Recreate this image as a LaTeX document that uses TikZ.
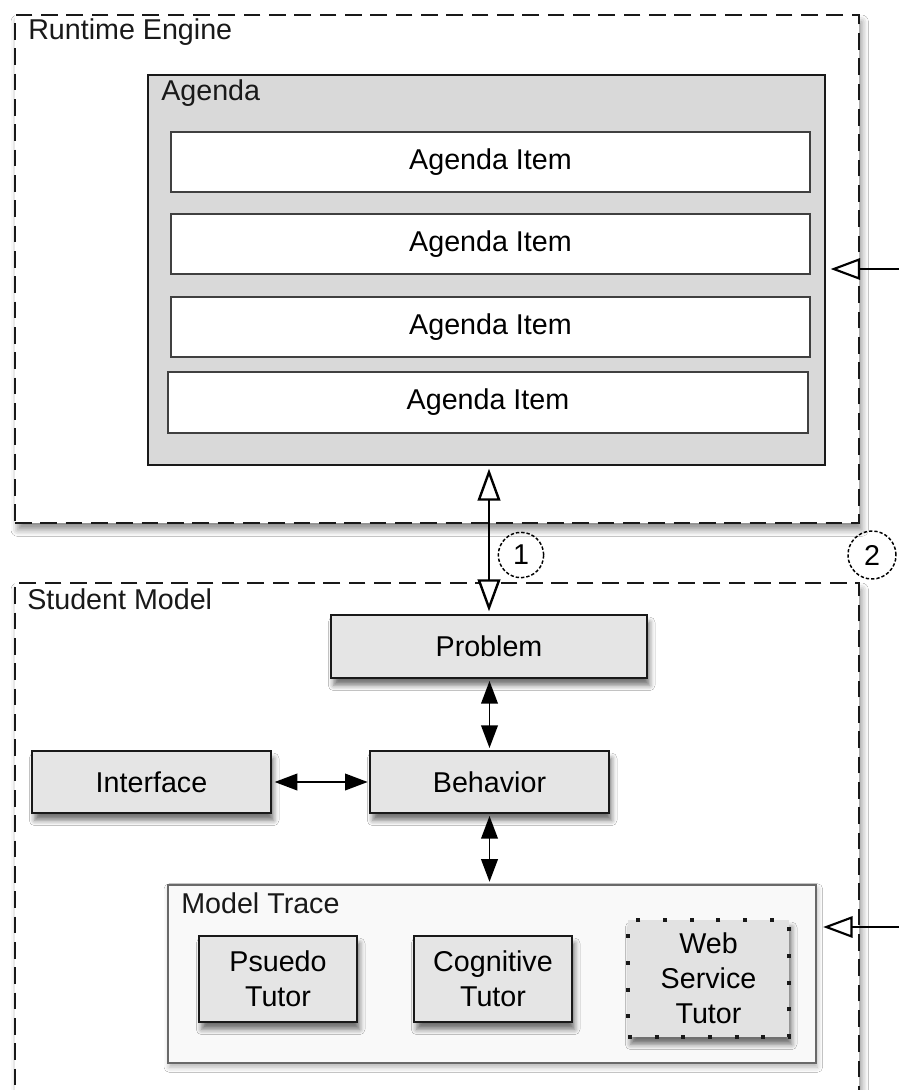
\documentclass[tikz,border=0pt]{standalone}
\usepackage{fontspec}
\setmainfont{Liberation Sans}
\usetikzlibrary{arrows.meta,shadows.blur}
\definecolor{agendagray}{RGB}{217,217,217}
\definecolor{boxgray}{RGB}{229,229,229}
\definecolor{webgray}{RGB}{226,226,226}
\definecolor{mtfill}{RGB}{249,249,249}
\definecolor{mtdraw}{RGB}{105,105,105}
\definecolor{inkc}{RGB}{25,25,25}
\newcommand\lblfont{\fontsize{21.5}{26.25}\selectfont}
\tikzset{
  softshadow/.style={blur shadow={shadow xshift=2pt, shadow yshift=-5.5pt, shadow blur radius=4pt, shadow opacity=55}},
  container/.style={draw=inkc, line width=1.5pt, dash pattern=on 12.5pt off 6.5pt, fill=white, inner sep=0pt, blur shadow={shadow xshift=2pt, shadow yshift=-5pt, shadow blur radius=5pt, shadow opacity=45}},
  agendabox/.style={draw=inkc, line width=1.5pt, fill=agendagray, inner sep=0pt},
  itembox/.style={draw=black!75, line width=1.5pt, fill=white, inner sep=0pt, font=\lblfont},
  compbox/.style={draw=inkc, line width=1.5pt, fill=boxgray, inner sep=0pt, font=\lblfont, align=center, softshadow},
  mtbox/.style={draw=mtdraw, line width=1.8pt, fill=mtfill, inner sep=0pt, blur shadow={shadow xshift=1pt, shadow yshift=-3pt, shadow blur radius=4pt, shadow opacity=30}},
  webbox/.style={draw=inkc, line width=2.8pt, dash pattern=on 3pt off 17pt, fill=webgray, inner sep=0pt, font=\lblfont, align=center, softshadow},
  grouplabel/.style={anchor=base west, inner sep=0pt, font=\lblfont, text=black!90},
  numcirc/.style={circle, draw=black, line width=1.1pt, dash pattern=on 2.5pt off 1.5pt, minimum size=34pt, inner sep=0pt, font=\lblfont},
  openarrow/.style={line width=1.6pt, draw=black, -{Triangle[open, length=22pt, width=16pt, fill=white]}},
  dblopen/.style={line width=1.8pt, draw=black, {Triangle[open, length=24pt, width=17pt, fill=white]}-{Triangle[open, length=24pt, width=17pt, fill=white]}},
  dblfill/.style={line width=1.3pt, draw=black, {Triangle[length=17pt, width=12.5pt]}-{Triangle[length=17pt, width=12.5pt]}},
}
\begin{document}
\begin{tikzpicture}[x=0.75pt, y=-0.75pt]
\useasboundingbox (0,0) rectangle (899,1090);
\clip (0,0) rectangle (899,1090);
\fill[white] (0,0) rectangle (899,1090);

% Runtime Engine
\node[container, minimum width=633pt, minimum height=381pt] (re) at (437,269) {};
\node[grouplabel] (relbl) at (28,39) {Runtime Engine};

% Agenda
\node[agendabox, minimum width=507.75pt, minimum height=292.5pt] (agenda) at (486.5,270) {};
\node[grouplabel] (aglbl) at (161,100) {Agenda};
\node[itembox, minimum width=479.25pt, minimum height=45pt] (ai1) at (490.5,162) {Agenda Item};
\node[itembox, minimum width=479.25pt, minimum height=45pt] (ai2) at (490.5,244) {Agenda Item};
\node[itembox, minimum width=479.25pt, minimum height=45pt] (ai3) at (490.5,327) {Agenda Item};
\node[itembox, minimum width=480pt, minimum height=45.75pt] (ai4) at (488,402.5) {Agenda Item};

% Student Model
\node[container, minimum width=633pt, minimum height=402.75pt] (sm) at (437,851.5) {};
\node[grouplabel] (smlbl) at (27,609) {Student Model};

\node[compbox, minimum width=237pt, minimum height=47.25pt] (problem) at (489,646.5) {Problem};
\node[compbox, minimum width=179.25pt, minimum height=46.5pt] (behavior) at (489.5,782) {Behavior};
\node[compbox, minimum width=179.25pt, minimum height=46.5pt] (interface) at (151.5,782) {Interface};

% Model Trace
\node[mtbox, minimum width=486pt, minimum height=133.5pt] (mt) at (492,974) {};
\node[grouplabel] (mtlbl) at (181,913) {Model Trace};
\node[compbox, minimum width=118.5pt, minimum height=64.5pt] (pseudo) at (278,979) {Psuedo\\Tutor};
\node[compbox, minimum width=118.5pt, minimum height=64.5pt] (cognitive) at (493,979) {Cognitive\\Tutor};
\node[webbox, minimum width=120.75pt, minimum height=87.75pt] (web) at (708.5,978.5) {Web\\Service\\Tutor};

% numbered circles
\node[numcirc] (c1) at (521,555) {1};
\node[numcirc, minimum size=36pt] (c2) at (872,555) {2};

% connectors
\coordinate (inA) at (910,269);
\coordinate (inM) at (910,927);
\draw[openarrow, shorten >=3.5pt] (inA) -- (agenda.east |- inA);
\draw[openarrow, shorten >=4.5pt] (inM) -- (mt.east |- inM);
\draw[dblopen, shorten <=2pt, shorten >=2pt] (problem.north |- agenda.south) -- (problem.north);
\draw[dblfill, shorten <=1.5pt, shorten >=1.5pt] (problem.south -| behavior.north) -- (behavior.north);
\draw[dblfill, shorten <=1.5pt, shorten >=1.5pt] (behavior.south) -- (mt.north -| behavior.south);
\draw[dblfill, shorten <=2pt, shorten >=1pt] (interface.east) -- (behavior.west);
\end{tikzpicture}
\end{document}
